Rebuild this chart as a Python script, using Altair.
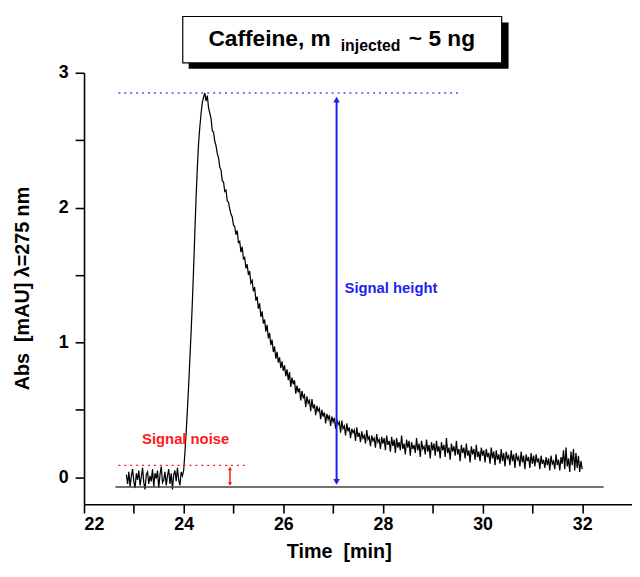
import altair as alt
import pandas as pd

# ---- data ----
t_start = 22.85
t_step = 0.025
absorbance = [
    # 22.85 - 23.975 baseline
    0.02, -0.05, 0.04, -0.07, 0.01, 0.06, -0.03, -0.08, 0.03, -0.02,
    0.05, -0.06, 0.00, 0.07, -0.04, -0.09, 0.02, 0.04, -0.05, 0.01,
    -0.03, 0.06, -0.07, 0.03, -0.01, 0.05, -0.08, 0.02, 0.08, -0.04,
    -0.02, 0.04, -0.06, 0.01, 0.06, -0.05, 0.03, -0.09, 0.02, 0.05,
    -0.03, 0.07, -0.02, -0.06, 0.04, 0.01,
    # 24.0 - 24.4 rise
    0.05, 0.18, 0.33, 0.50, 0.68, 0.88, 1.08, 1.30, 1.55, 1.82,
    2.08, 2.30, 2.48, 2.60, 2.70, 2.78, 2.82,
    # 24.425 - 25.0 peak and early decay
    2.85, 2.79, 2.83, 2.74, 2.70, 2.66, 2.57, 2.56, 2.49, 2.46,
    2.40, 2.37, 2.30, 2.28, 2.20, 2.19, 2.12, 2.13, 2.05, 2.04,
    1.99, 1.95, 1.93, 1.87,
    # 25.025 - 26.0
    1.86, 1.80, 1.83, 1.74, 1.75, 1.67, 1.71, 1.62, 1.63, 1.55,
    1.58, 1.50, 1.53, 1.44, 1.46, 1.38, 1.41, 1.31, 1.34, 1.25,
    1.29, 1.19, 1.23, 1.14, 1.17, 1.08, 1.13, 1.03, 1.07, 0.98,
    1.02, 0.93, 0.97, 0.88, 0.93, 0.85, 0.89, 0.81, 0.86, 0.79,
    # 26.025 - 27.0
    0.83, 0.75, 0.80, 0.72, 0.78, 0.67, 0.74, 0.69, 0.72, 0.62,
    0.68, 0.63, 0.66, 0.57, 0.64, 0.59, 0.61, 0.52, 0.60, 0.55,
    0.57, 0.49, 0.58, 0.51, 0.54, 0.46, 0.53, 0.49, 0.51, 0.43,
    0.50, 0.45, 0.48, 0.40, 0.47, 0.43, 0.46, 0.38, 0.45, 0.41,
    # 27.025 - 28.0
    0.44, 0.36, 0.43, 0.39, 0.41, 0.33, 0.42, 0.36, 0.38, 0.31,
    0.40, 0.34, 0.37, 0.29, 0.36, 0.33, 0.35, 0.27, 0.37, 0.30,
    0.33, 0.26, 0.34, 0.29, 0.31, 0.25, 0.35, 0.28, 0.30, 0.23,
    0.31, 0.27, 0.29, 0.22, 0.32, 0.26, 0.28, 0.21, 0.30, 0.25,
    # 28.025 - 29.0
    0.29, 0.20, 0.31, 0.24, 0.27, 0.19, 0.30, 0.23, 0.28, 0.18,
    0.29, 0.22, 0.26, 0.20, 0.31, 0.21, 0.25, 0.17, 0.28, 0.22,
    0.27, 0.16, 0.26, 0.21, 0.24, 0.18, 0.29, 0.20, 0.25, 0.15,
    0.27, 0.21, 0.23, 0.17, 0.28, 0.19, 0.24, 0.14, 0.26, 0.20,
    # 29.025 - 30.0
    0.25, 0.16, 0.27, 0.19, 0.23, 0.14, 0.26, 0.20, 0.24, 0.15,
    0.29, 0.18, 0.22, 0.13, 0.25, 0.19, 0.23, 0.16, 0.27, 0.17,
    0.21, 0.12, 0.24, 0.18, 0.22, 0.14, 0.25, 0.16, 0.20, 0.11,
    0.23, 0.17, 0.21, 0.13, 0.24, 0.15, 0.19, 0.12, 0.22, 0.16,
    # 30.025 - 31.0
    0.20, 0.11, 0.21, 0.15, 0.18, 0.10, 0.22, 0.14, 0.19, 0.09,
    0.20, 0.13, 0.17, 0.10, 0.21, 0.12, 0.18, 0.08, 0.19, 0.14,
    0.16, 0.09, 0.20, 0.12, 0.17, 0.07, 0.18, 0.13, 0.15, 0.08,
    0.19, 0.11, 0.16, 0.06, 0.17, 0.12, 0.15, 0.07, 0.18, 0.10,
    # 31.025 - 32.0
    0.16, 0.08, 0.17, 0.11, 0.14, 0.06, 0.16, 0.10, 0.13, 0.07,
    0.15, 0.09, 0.14, 0.05, 0.16, 0.10, 0.12, 0.06, 0.17, 0.09,
    0.13, 0.05, 0.15, 0.10, 0.20, 0.06, 0.22, 0.08, 0.14, 0.04,
    0.19, 0.09, 0.21, 0.05, 0.18, 0.07, 0.16, 0.04, 0.12, 0.06,
]
time = [round(t_start + t_step * i, 3) for i in range(len(absorbance))]

x_ticks = list(range(22, 33))
y_ticks = [0, 0.5, 1, 1.5, 2, 2.5, 3]
x_title = "Time\u00a0 [min]"
y_title = "Abs\u00a0 [mAU] λ=275 nm"

# annotation values (data units)
peak_level = 2.85
baseline_level = -0.073
noise_level = 0.088
height_arrow_time = 27.07
noise_arrow_time = 24.93

trace = pd.DataFrame({"time": time, "abs": absorbance})

x_scale = alt.Scale(domain=[22, 33], nice=False, zero=False)
y_scale = alt.Scale(domain=[-0.2, 3], nice=False, zero=False)

FONT = "Liberation Sans"
BLUE = "#1f1fee"
BLUE_DOT = "#4a4aff"
RED = "#ff1a1a"

line = alt.Chart(trace).mark_line(color="black", strokeWidth=1.25).encode(
    x=alt.X("time:Q", scale=x_scale, title=x_title,
            axis=alt.Axis(values=x_ticks,
                          labelExpr="datum.value % 2 == 0 ? datum.label : ''",
                          titleX=258)),
    y=alt.Y("abs:Q", scale=y_scale, title=y_title,
            axis=alt.Axis(values=y_ticks,
                          labelExpr="datum.value % 1 == 0 ? format(datum.value, 'd') : ''",
                          titleX=-62, titleY=218, titleBaseline="middle")),
)

def xenc():
    return alt.X("time:Q", scale=x_scale, title=x_title)

def yenc():
    return alt.Y("abs:Q", scale=y_scale, title=y_title)

def hrule(x1, x2, y, **kw):
    df = pd.DataFrame({"time": [x1], "time2": [x2], "abs": [y]})
    return alt.Chart(df).mark_rule(**kw).encode(x=xenc(), x2="time2:Q", y=yenc())

def vrule(x, y1, y2, **kw):
    df = pd.DataFrame({"time": [x], "abs": [y1], "abs2": [y2]})
    return alt.Chart(df).mark_rule(**kw).encode(x=xenc(), y=yenc(), y2="abs2:Q")

def head(x, y, shape, color, size):
    df = pd.DataFrame({"time": [x], "abs": [y]})
    return alt.Chart(df).mark_point(shape=shape, filled=True, color=color,
                                    size=size, opacity=1).encode(x=xenc(), y=yenc())

def label(x, y, text, color, align, size):
    df = pd.DataFrame({"time": [x], "abs": [y], "t": [text]})
    return alt.Chart(df).mark_text(color=color, align=align, baseline="middle",
                                   font=FONT, fontWeight="bold",
                                   fontSize=size).encode(x=xenc(), y=yenc(), text="t:N")

baseline_rule = hrule(22.63, 32.43, baseline_level, color="#444444", strokeWidth=1.5)
peak_dots = hrule(22.69, 29.59, peak_level, color=BLUE_DOT, strokeWidth=1.6,
                  strokeDash=[2, 4])
noise_dots = hrule(22.69, 25.23, noise_level, color=RED, strokeWidth=1.3,
                   strokeDash=[2, 4])
height_shaft = vrule(height_arrow_time, baseline_level + 0.03, peak_level - 0.05,
                     color=BLUE, strokeWidth=2)
height_up = head(height_arrow_time, 2.80, "triangle-up", BLUE, 45)
height_down = head(height_arrow_time, -0.035, "triangle-down", BLUE, 45)
noise_shaft = vrule(noise_arrow_time, baseline_level + 0.02, noise_level - 0.02,
                    color=RED, strokeWidth=1.5)
noise_up = head(noise_arrow_time, 0.065, "triangle-up", RED, 18)
noise_down = head(noise_arrow_time, -0.05, "triangle-down", RED, 18)

noise_text = label(24.04, 0.28, "Signal noise", RED, "center", 15)
height_text = label(27.23, 1.40, "Signal height", BLUE, "left", 15)

# title box (decoration, pixel positions relative to plot area)
one = pd.DataFrame({"k": [0]})
shadow = alt.Chart(one).mark_rect(color="black").encode(
    x=alt.value(106), x2=alt.value(430), y=alt.value(-51), y2=alt.value(-4))
box = alt.Chart(one).mark_rect(fill="white", stroke="black", strokeWidth=1.2).encode(
    x=alt.value(100), x2=alt.value(423), y=alt.value(-57), y2=alt.value(-10))
t1 = alt.Chart(one).mark_text(text="Caffeine, m", align="left", baseline="alphabetic",
                              font=FONT, fontWeight="bold", fontSize=23,
                              color="black").encode(x=alt.value(126), y=alt.value(-27))
t2 = alt.Chart(one).mark_text(text="injected", align="left", baseline="alphabetic",
                              font=FONT, fontWeight="bold", fontSize=16,
                              color="black").encode(x=alt.value(260), y=alt.value(-22))
t3 = alt.Chart(one).mark_text(text="~ 5 ng", align="left", baseline="alphabetic",
                              font=FONT, fontWeight="bold", fontSize=23,
                              color="black").encode(x=alt.value(329), y=alt.value(-27))

chart = alt.layer(
    line, baseline_rule, peak_dots, noise_dots,
    height_shaft, height_up, height_down,
    noise_shaft, noise_up, noise_down,
    noise_text, height_text,
    shadow, box, t1, t2, t3,
).properties(
    width=555, height=437,
    autosize=alt.AutoSizeParams(type="none"),
    padding={"left": 77, "top": 62, "right": 0, "bottom": 62},
).configure(
    background="white",
).configure_view(
    stroke=None,
).configure_axis(
    grid=False, tickSize=9, labelPadding=5,
    domainWidth=1.6, tickWidth=1.6, domainColor="black", tickColor="black",
    labelFontSize=18, titleFontSize=20, labelFont=FONT, titleFont=FONT,
    labelFontWeight="bold", titleFontWeight="bold",
    labelColor="black", titleColor="black",
).configure_axisX(titlePadding=8, labelPadding=3).configure_axisY(labelPadding=7)

chart.save("out.html", embed_options={"renderer": "svg", "actions": False})
